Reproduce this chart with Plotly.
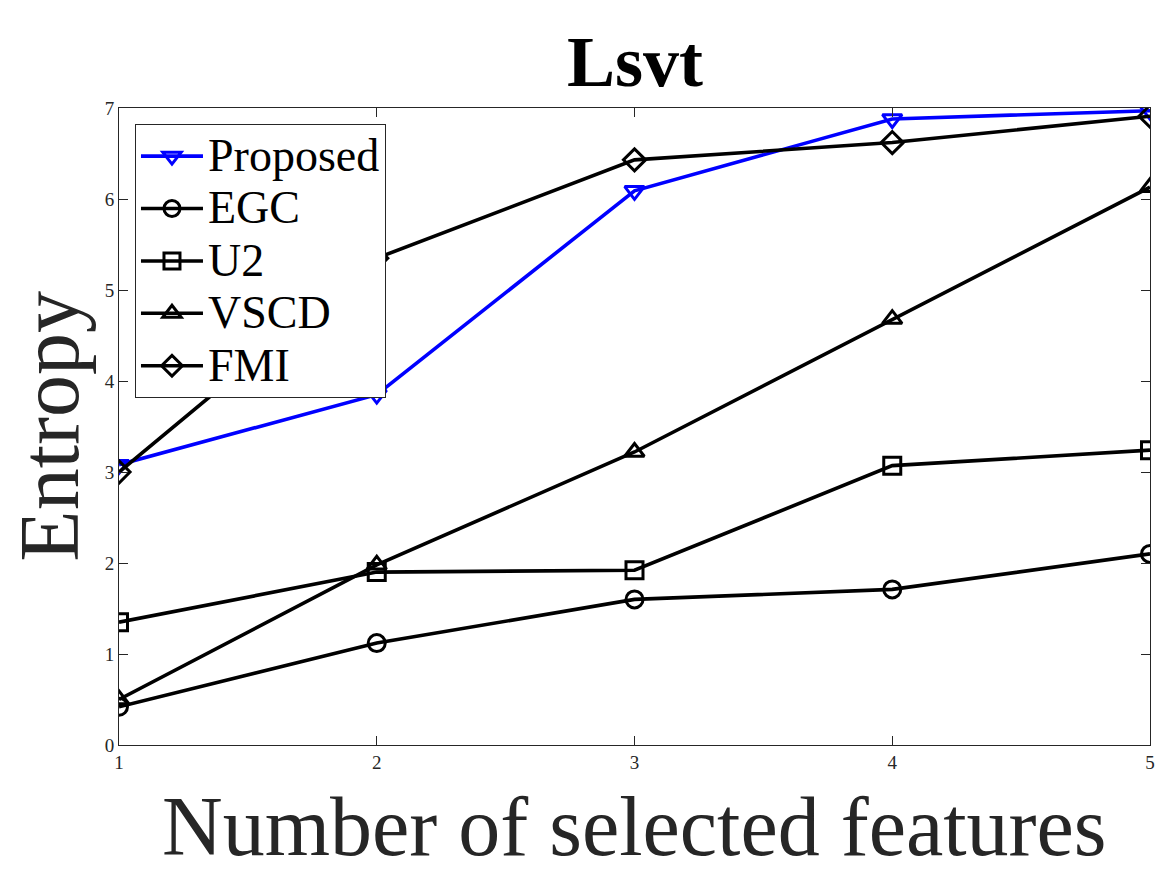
import plotly.graph_objects as go

x_vals = [1, 2, 3, 4, 5]
proposed = [3.08, 3.85, 6.09, 6.88, 6.97]
egc = [0.42, 1.12, 1.60, 1.71, 2.10]
u2 = [1.35, 1.90, 1.92, 3.07, 3.24]
vscd = [0.50, 1.98, 3.22, 4.68, 6.13]
fmi = [3.00, 5.35, 6.43, 6.62, 6.91]

series = [
    ("Proposed", proposed, "#0000FF", "triangle-down-open"),
    ("EGC", egc, "#000000", "circle-open"),
    ("U2", u2, "#000000", "square-open"),
    ("VSCD", vscd, "#000000", "triangle-up-open"),
    ("FMI", fmi, "#000000", "diamond-open"),
]

FONT = "Liberation Serif, Times New Roman, serif"

fig = go.Figure()
for name, vals, color, sym in series:
    fig.add_trace(go.Scatter(
        x=x_vals, y=vals, name='<span style="font-size:46px">' + name + '</span>',
        mode="lines+markers",
        line=dict(color=color, width=3.6),
        marker=dict(symbol=sym, size=17, color=color, line=dict(color=color, width=3)),
    ))

axis_common = dict(
    showgrid=False, zeroline=False, showline=True, linecolor="#262626", linewidth=1,
    mirror="ticks", ticks="inside", ticklen=9, tickcolor="#262626", tickwidth=1,
    tickfont=dict(family=FONT, size=19, color="#262626"),
)

fig.update_xaxes(range=[1, 5], tickvals=[1, 2, 3, 4, 5], **axis_common)
fig.update_yaxes(range=[0, 7], tickvals=[0, 1, 2, 3, 4, 5, 6, 7], **axis_common)

fig.update_layout(
    width=1167, height=875,
    margin=dict(l=119, r=15, t=108, b=130),
    paper_bgcolor="white", plot_bgcolor="white",
    showlegend=True,
    legend=dict(
        x=0.0155, y=0.975, xanchor="left", yanchor="top",
        bgcolor="white", bordercolor="#262626", borderwidth=1,
        font=dict(family=FONT, size=38, color="#000000"),
        tracegroupgap=0, itemwidth=62,
    ),
    annotations=[
        dict(text="<b>Lsvt</b>", x=0.5, y=(745 - 62) / 637, xref="paper", yref="paper",
             xanchor="center", yanchor="middle", showarrow=False,
             font=dict(family=FONT, size=72, color="#000000")),
        dict(text="Number of selected features", x=0.5, y=(745 - 826) / 637,
             xref="paper", yref="paper", xanchor="center", yanchor="middle",
             showarrow=False, font=dict(family=FONT, size=84, color="#262626")),
        dict(text="Entropy", x=(49 - 119) / 1033, y=0.5, xref="paper", yref="paper",
             xanchor="center", yanchor="middle", textangle=-90, showarrow=False,
             font=dict(family=FONT, size=84, color="#262626")),
    ],
)

fig.write_html("out.html")
